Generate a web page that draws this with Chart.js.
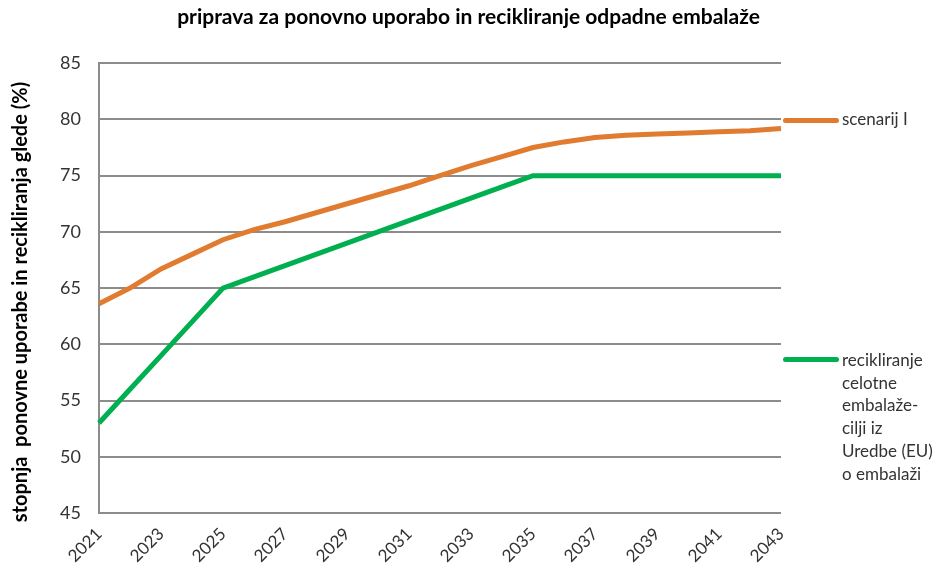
<!DOCTYPE html>
<html>
<head>
<meta charset="utf-8">
<script src="https://cdn.jsdelivr.net/npm/chart.js@4"></script>
<style>
  body { margin: 0; background: #fff; }
  #wrap { position: relative; width: 937px; height: 571px; }
  .legline { position: absolute; left: 783px; width: 56px; height: 5px; border-radius: 3px; }
  .legtext { position: absolute; left: 842px; font-family: Lato, sans-serif; font-size: 17px; line-height: 22.7px; color: #333; }
</style>
</head>
<body>
<div id="wrap">
  <canvas id="myChart" width="937" height="571"></canvas>
  <div class="legline" style="top:118px; background:#E07B30;"></div>
  <div class="legtext" style="top:108px;">scenarij I</div>
  <div class="legline" style="top:357px; background:#00B050;"></div>
  <div class="legtext" style="top:349px;">recikliranje<br>celotne<br>embalaže-<br>cilji iz<br>Uredbe (EU)<br>o embalaži</div>
</div>
<script>
// years on the x axis
const years = ["2021", "2022", "2023", "2024", "2025", "2026", "2027", "2028", "2029", "2030", "2031", "2032",
  "2033", "2034", "2035", "2036", "2037", "2038", "2039", "2040", "2041", "2042", "2043"];
// only every second year gets a label
const tickYears = ["2021", "2023", "2025", "2027", "2029", "2031", "2033", "2035", "2037", "2039", "2041", "2043"];

// scenarij I
const scenarij = [63.6, 65.0, 66.7, 68.0, 69.3, 70.2, 70.9, 71.7, 72.5, 73.3, 74.1, 75.0,
  75.9, 76.7, 77.5, 78.0, 78.4, 78.6, 78.7, 78.8, 78.9, 79.0, 79.2];
// cilji iz Uredbe (EU)
const cilji = [53, 56, 59, 62, 65, 66, 67, 68, 69, 70, 71, 72,
  73, 74, 75, 75, 75, 75, 75, 75, 75, 75, 75];

const yTitle = "stopnja  ponovne uporabe in recikliranja glede (%)";
const font = "Lato, sans-serif";
const gridColor = "#8c8c8c";

// y axis title sits a little below the middle of the plot, so draw it here
const yTitlePlugin = {
  id: "yTitle",
  afterDraw(chart) {
    const c = chart.ctx;
    c.save();
    c.translate(21, 302);
    c.rotate(-Math.PI / 2);
    c.font = "bold 20px " + font;
    c.fillStyle = "#000";
    c.textAlign = "center";
    c.textBaseline = "middle";
    c.fillText(yTitle, 0, 0);
    c.restore();
  },
};

const ctx = document.getElementById("myChart").getContext("2d");
const myChart = new Chart(ctx, {
  type: "line",
  data: {
    labels: years,
    datasets: [
      {
        label: "scenarij I",
        data: scenarij,
        borderColor: "#E07B30",
        borderWidth: 5,
        pointRadius: 0,
        tension: 0,
      },
      {
        label: "recikliranje celotne embalaže-cilji iz Uredbe (EU) o embalaži",
        data: cilji,
        borderColor: "#00B050",
        borderWidth: 5,
        pointRadius: 0,
        tension: 0,
      },
    ],
  },
  options: {
    responsive: false,
    animation: false,
    layout: { padding: 0 },
    plugins: {
      legend: { display: false },
      tooltip: { enabled: false },
      title: {
        display: true,
        text: "priprava za ponovno uporabo in recikliranje odpadne embalaže",
        color: "#000",
        font: { family: font, size: 21, weight: "bold" },
        padding: { top: 5, bottom: 33 },
      },
    },
    scales: {
      x: {
        grid: { display: false },
        border: { display: false },
        ticks: {
          autoSkip: false,
          maxRotation: 45,
          minRotation: 45,
          color: "#333",
          font: { family: font, size: 17 },
          padding: 3,
          callback: function (value, index) {
            return tickYears.includes(years[index]) ? years[index] : "";
          },
        },
        afterFit: function (scale) {
          scale.height = 58;
        },
      },
      y: {
        min: 45,
        max: 85,
        ticks: {
          stepSize: 5,
          color: "#333",
          font: { family: font, size: 18 },
          padding: 18,
        },
        grid: { color: gridColor, lineWidth: 2, drawTicks: false },
        border: { display: true, color: gridColor, width: 2 },
        afterFit: function (scale) {
          scale.width = 99;
        },
      },
      // empty axis on the right keeps room for the legend
      side: {
        position: "right",
        grid: { display: false },
        border: { display: false },
        ticks: { display: false },
        afterFit: function (scale) {
          scale.width = 156;
        },
      },
    },
  },
  plugins: [yTitlePlugin],
});
</script>
</body>
</html>
